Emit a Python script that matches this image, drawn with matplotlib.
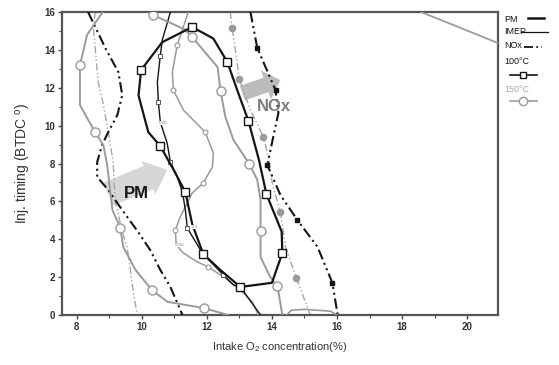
import matplotlib.pyplot as plt
from matplotlib.lines import Line2D
from matplotlib.ticker import MultipleLocator

plt.rcParams['font.family'] = ['Liberation Sans', 'DejaVu Sans']
plt.rcParams['mathtext.fontset'] = 'custom'
plt.rcParams['mathtext.rm'] = 'Liberation Sans'

# PM contour, 100 C (closed loop)
pm100_x = [9.98, 10.63, 11.55, 12.2, 12.63, 12.95, 13.28, 13.6, 13.83, 14.3, 14.32,
           14.0, 13.03, 12.4, 11.89, 11.55, 11.34, 11.0, 10.57, 10.2, 9.9, 9.98]
pm100_y = [12.94, 14.41, 15.21, 14.6, 13.36, 11.8, 10.24, 8.2, 6.39, 4.4, 3.27,
           1.7, 1.48, 2.4, 3.22, 4.8, 6.49, 7.6, 8.92, 9.66, 11.6, 12.94]
pm100_mk = [0, 2, 4, 6, 8, 10, 12, 14, 16, 18]

# PM contours, 150 C
pm150a_x = [10.35, 11.3, 11.55, 12.33, 12.42, 12.57, 12.82, 13.31, 13.55, 13.65,
            13.65, 13.65, 13.95, 14.17, 14.32]
pm150a_y = [15.84, 15.1, 14.68, 13.09, 11.83, 10.45, 9.24, 7.97, 7.13, 6.07,
            4.43, 3.06, 2.0, 1.53, 0.0]
pm150a_mk = [0, 2, 4, 7, 10, 13]

pm150b_x = [8.8, 8.32, 8.1, 8.1, 8.32, 8.57, 8.82, 8.94, 9.0, 9.1, 9.34, 9.43,
            9.8, 10.32, 10.8, 11.9, 12.65]
pm150b_y = [16.0, 14.8, 13.2, 11.1, 10.4, 9.66, 8.97, 7.9, 7.0, 5.54, 4.6, 3.6,
            2.4, 1.3, 0.69, 0.37, 0.0]
pm150b_mk = [2, 5, 10, 13, 15]

pm150c_x = [18.58, 19.6, 20.95]
pm150c_y = [16.0, 15.3, 14.36]

pm150d_x = [14.45, 14.6, 15.0, 15.8, 16.0]
pm150d_y = [0.0, 0.25, 0.3, 0.2, 0.0]

# IMEP contours
imep100_x = [10.88, 10.63, 10.57, 10.48, 10.51, 10.57, 10.78, 10.88, 11.09, 11.25,
             11.34, 11.4, 11.86, 12.51, 12.82, 13.03, 13.65]
imep100_y = [16.0, 14.52, 13.7, 12.3, 11.25, 10.19, 9.08, 8.08, 7.29, 6.49,
             5.54, 4.59, 3.27, 2.11, 1.58, 1.48, 0.0]
imep100_mk = [2, 4, 7, 11, 13]

imep150_x = [11.43, 11.09, 10.94, 10.97, 11.28, 11.95, 12.2, 12.17, 11.89, 11.55,
             11.18, 11.03, 11.06, 11.28, 11.71, 12.05, 12.57, 13.03, 13.4, 13.58]
imep150_y = [16.0, 14.26, 12.83, 11.88, 10.82, 9.66, 8.55, 7.81, 6.97, 6.44,
             5.17, 4.49, 3.7, 3.27, 2.8, 2.53, 1.95, 1.32, 0.69, 0.0]
imep150_mk = [1, 3, 5, 8, 11, 15]

# NOx contours
nox100a_x = [13.34, 13.55, 14.11, 14.2, 14.02, 13.86, 14.26, 14.78, 15.4, 15.86, 16.02]
nox100a_y = [16.0, 14.1, 11.88, 10.67, 9.24, 7.92, 6.34, 5.02, 3.6, 1.69, 0.0]
nox100a_mk = [1, 2, 5, 7, 9]

nox100b_x = [8.35, 8.88, 9.28, 9.4, 9.25, 8.97, 8.78, 8.63, 8.63, 8.97, 9.4,
             9.89, 10.26, 10.57, 10.88, 11.25]
nox100b_y = [16.0, 14.1, 12.83, 11.62, 10.56, 9.66, 8.98, 8.08, 7.29, 6.6, 5.54,
             4.38, 3.43, 2.38, 1.48, 0.0]

nox150a_x = [12.72, 12.78, 13.0, 13.34, 13.74, 13.89, 14.02, 14.26, 14.42, 14.75, 15.18]
nox150a_y = [16.0, 15.15, 12.46, 10.82, 9.4, 8.34, 6.86, 5.44, 3.59, 1.95, 0.0]
nox150a_mk = [1, 2, 4, 7, 9]

nox150b_x = [8.57, 8.51, 8.57, 8.66, 8.82, 8.97, 9.12, 9.18, 9.4, 9.55, 9.65, 9.74, 9.86]
nox150b_y = [16.0, 15.2, 14.1, 12.3, 11.1, 9.66, 8.08, 6.07, 4.38, 3.59, 2.38, 1.21, 0.0]

BLACK = '#151515'
GRAY = '#9a9a9a'
NOX_LS = (0, (5, 1.8, 1, 1.8, 1, 1.8))

fig = plt.figure(figsize=(5.59, 3.65), dpi=100)
ax = fig.add_axes([0.111, 0.137, 0.78, 0.830])

# arrows behind the curves
ax.annotate('', xy=(10.78, 7.66), xytext=(8.97, 6.39),
            arrowprops=dict(arrowstyle='simple,head_length=1.45,head_width=2.6,tail_width=1.8',
                            fc='#d6d6d6', ec='none', shrinkA=0, shrinkB=0, mutation_scale=10),
            zorder=1)
ax.annotate('', xy=(14.26, 12.41), xytext=(13.09, 11.72),
            arrowprops=dict(arrowstyle='simple,head_length=1.1,head_width=2.2,tail_width=1.1',
                            fc='#bcbcbc', ec='none', shrinkA=0, shrinkB=0, mutation_scale=10),
            zorder=1)

# NOx
ax.plot(nox150a_x, nox150a_y, color='#a5a5a5', lw=1.0, ls=NOX_LS, marker='o', ms=4.5,
        mfc='#9a9a9a', mec='#9a9a9a', markevery=nox150a_mk, zorder=2)
ax.plot(nox150b_x, nox150b_y, color='#a5a5a5', lw=1.0, ls=NOX_LS, zorder=2)
ax.plot(nox100a_x, nox100a_y, color=BLACK, lw=1.5, ls=NOX_LS, marker='s', ms=3.5,
        mfc=BLACK, mec=BLACK, markevery=nox100a_mk, zorder=3)
ax.plot(nox100b_x, nox100b_y, color=BLACK, lw=1.5, ls=NOX_LS, zorder=3)

# IMEP
ax.plot(imep150_x, imep150_y, color=GRAY, lw=1.1, marker='o', ms=3.5, mfc='white',
        mec=GRAY, mew=0.8, markevery=imep150_mk, zorder=3)
ax.plot(imep100_x, imep100_y, color=BLACK, lw=1.0, marker='s', ms=3.2, mfc='white',
        mec='#555555', mew=0.7, markevery=imep100_mk, zorder=4)

# PM
for xs, ys, mk in [(pm150a_x, pm150a_y, pm150a_mk), (pm150b_x, pm150b_y, pm150b_mk)]:
    ax.plot(xs, ys, color=GRAY, lw=1.4, marker='o', ms=6.5, mfc='white', mec=GRAY,
            mew=1.0, markevery=mk, zorder=4)
ax.plot(pm150c_x, pm150c_y, color=GRAY, lw=1.3, zorder=4)
ax.plot(pm150d_x, pm150d_y, color=GRAY, lw=1.2, zorder=4)
ax.plot(pm100_x, pm100_y, color=BLACK, lw=1.6, marker='s', ms=5.5, mfc='white',
        mec=BLACK, mew=1.0, markevery=pm100_mk, zorder=5)

# contour value labels
for x, y, s in [(10.66, 10.14, '0.90'), (11.18, 3.7, '0.90'), (11.62, 4.65, '0.9')]:
    ax.text(x, y, s, fontsize=3.2, color='#888888', ha='center', va='center', zorder=6,
            bbox=dict(fc='white', ec='none', pad=0.2))

ax.text(9.82, 6.41, 'PM', fontsize=12, fontweight='bold', color=BLACK,
        ha='center', va='center', zorder=6)
ax.text(14.05, 11.03, 'NOx', fontsize=12, fontweight='bold', color='#7d7d7d',
        ha='center', va='center', zorder=6)

ax.set_xlim(7.55, 20.95)
ax.set_ylim(0, 16)
ax.xaxis.set_major_locator(MultipleLocator(2))
ax.xaxis.set_minor_locator(MultipleLocator(1))
ax.yaxis.set_major_locator(MultipleLocator(2))
ax.yaxis.set_minor_locator(MultipleLocator(1))
ax.tick_params(which='major', direction='out', length=3, width=1.0, color='#444444',
               labelsize=7, labelcolor='#333333', pad=2)
ax.tick_params(which='minor', direction='out', length=2, width=0.8, color='#444444')
for lab in ax.get_xticklabels() + ax.get_yticklabels():
    lab.set_fontweight('bold')
for s in ax.spines.values():
    s.set_color('#555555')
    s.set_linewidth(1.6)

ax.set_xlabel('Intake O$_{\\rm 2}$ concentration(%)', fontsize=8, color='#333333', labelpad=6)
ax.set_ylabel('Inj. timing (BTDC $^{\\rm o}$)', fontsize=10, color='#333333', labelpad=8)


# legend drawn by hand outside the axes
def fx(px):
    return px / 559.0


def fy(py):
    return 1 - py / 365.0


leg_txt = [('PM', 19, BLACK), ('IMEP', 32, BLACK), ('NOx', 46, BLACK),
           ('100°C', 62, BLACK), ('150°C', 89, '#a8a8a8')]
for t, py, c in leg_txt:
    fig.text(fx(504), fy(py), t, fontsize=6.5, color=c, ha='left', va='center')
fig.add_artist(Line2D([fx(528), fx(544)], [fy(18), fy(18)], color=BLACK, lw=1.8))
fig.add_artist(Line2D([fx(521), fx(548)], [fy(32), fy(32)], color=BLACK, lw=0.9))
fig.add_artist(Line2D([fx(524), fx(542)], [fy(47), fy(47)], color=BLACK, lw=1.3, ls=NOX_LS))
fig.add_artist(Line2D([fx(510), fx(537)], [fy(75), fy(75)], color=BLACK, lw=1.2))
fig.add_artist(Line2D([fx(523)], [fy(75)], color=BLACK, lw=0, marker='s', ms=5,
                      mfc='white', mec=BLACK))
fig.add_artist(Line2D([fx(510), fx(537)], [fy(101), fy(101)], color=GRAY, lw=1.2))
fig.add_artist(Line2D([fx(523)], [fy(101)], color=GRAY, lw=0, marker='o', ms=6,
                      mfc='white', mec=GRAY))

fig.savefig('out.png', dpi=100)
